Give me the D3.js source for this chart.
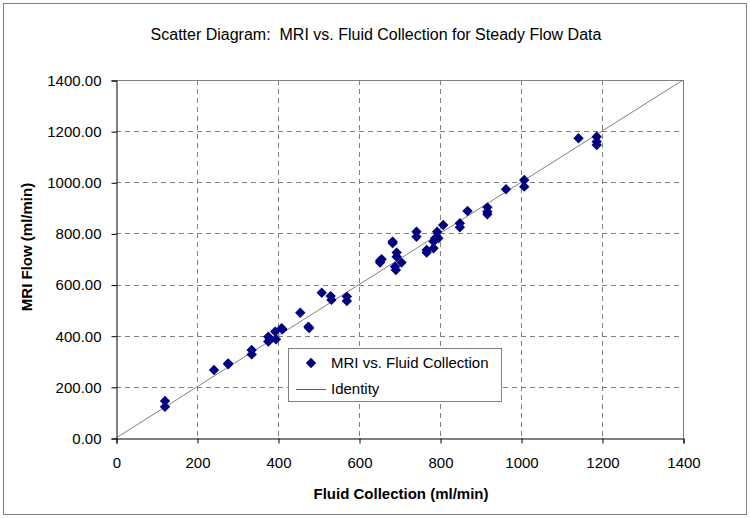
<!DOCTYPE html>
<html>
<head>
<meta charset="utf-8">
<script src="https://cdn.jsdelivr.net/npm/d3@7"></script>
<style>
  body { margin: 0; background: #fff; }
  svg { display: block; font-family: "Liberation Sans", Arial, sans-serif; }
</style>
</head>
<body>
<svg id="chart" width="750" height="518"></svg>
<script>
// Data
const fluidCollection = [121,121,242,277,277,335,335,376,376,380,393,395,409,411,455,475,477,508,530,532,570,570,652,652,656,683,683,689,691,693,693,705,742,742,767,767,784,784,788,793,796,808,849,849,868,917,917,917,963,1008,1008,1142,1187,1187,1187];
const mriFlow =         [145,122,266,292,288,344,327,396,377,385,416,386,429,425,490,435,430,568,555,540,553,536,693,686,699,768,762,670,657,725,709,686,807,787,735,725,742,768,781,807,781,833,840,824,888,902,885,875,973,1009,983,1172,1178,1159,1146];
const xTicks = [0,200,400,600,800,1000,1200,1400];
const yTicks = [0,200,400,600,800,1000,1200,1400];
const identity = [0,1400];
const titleText = "Scatter Diagram:  MRI vs. Fluid Collection for Steady Flow Data";
const xTitle = "Fluid Collection (ml/min)";
const yTitle = "MRI Flow (ml/min)";
const seriesNames = ["MRI vs. Fluid Collection", "Identity"];

const svg = d3.select("#chart");
const pL = 116, pR = 683, pT = 80, pB = 438;
const FONT = "Liberation Sans, Arial, sans-serif";

const x = d3.scaleLinear().domain([0,1400]).range([pL,pR]);
const y = d3.scaleLinear().domain([0,1400]).range([pB,pT]);

// outer border
svg.append("rect").attr("x",3.5).attr("y",3.5).attr("width",743).attr("height",511)
  .attr("fill","#fff").attr("stroke","#808080").attr("stroke-width",1);

// title
svg.append("text").attr("x",376).attr("y",40).attr("text-anchor","middle")
  .attr("font-size",16).attr("fill","#000").style("white-space","pre").text(titleText);

// gridlines
const grid = svg.append("g");
grid.selectAll(".hg").data(yTicks.slice(1,-1)).enter().append("line")
  .attr("x1",pL).attr("x2",pR)
  .attr("y1",d=>Math.round(y(d))+0.5).attr("y2",d=>Math.round(y(d))+0.5)
  .attr("stroke","#808080").attr("stroke-dasharray","5,4");
grid.selectAll(".vg").data(xTicks.slice(1,-1)).enter().append("line")
  .attr("y1",pT).attr("y2",pB)
  .attr("x1",d=>Math.round(x(d))+0.5).attr("x2",d=>Math.round(x(d))+0.5)
  .attr("stroke","#808080").attr("stroke-dasharray","5,4");

// plot frame (top/right gray)
svg.append("line").attr("x1",pL).attr("x2",pR+0.5).attr("y1",pT+0.5).attr("y2",pT+0.5).attr("stroke","#808080");
svg.append("line").attr("x1",pR+0.5).attr("x2",pR+0.5).attr("y1",pT).attr("y2",pB).attr("stroke","#808080");

// axes
const xAxis = d3.axisBottom(x).tickValues(xTicks).tickSize(5).tickPadding(14).tickFormat(d3.format("d"));
const gx = svg.append("g").attr("transform",`translate(0.5,${pB+0.5})`).call(xAxis);
const yAxis = d3.axisLeft(y).tickValues(yTicks).tickSize(5).tickPadding(10).tickFormat(d3.format(".2f"));
const gy = svg.append("g").attr("transform",`translate(${pL+0.5},0.5)`).call(yAxis);
[gx,gy].forEach(g=>{
  g.attr("font-size",15).attr("font-family",FONT);
  g.selectAll("text").attr("fill","#000");
  g.selectAll("line").attr("stroke","#000");
  g.select(".domain").attr("stroke","#000");
});

// axis titles
svg.append("text").attr("x",401).attr("y",499).attr("text-anchor","middle")
  .attr("font-size",15).attr("font-weight","bold").text(xTitle);
svg.append("text").attr("transform",`translate(32,247) rotate(-90)`)
  .attr("text-anchor","middle").attr("font-size",15).attr("font-weight","bold").text(yTitle);

// identity line
svg.append("line").attr("x1",x(identity[0])).attr("y1",y(identity[0]))
  .attr("x2",x(identity[1])).attr("y2",y(identity[1]))
  .attr("stroke","#606060").attr("stroke-width",0.8);

// points
const diamond = "M0,-5.2L5.2,0L0,5.2L-5.2,0Z";
svg.append("g").selectAll("path").data(fluidCollection.map((v,i)=>[v,mriFlow[i]])).enter()
  .append("path").attr("d",diamond)
  .attr("transform",d=>`translate(${x(d[0])},${y(d[1])})`)
  .attr("fill","#000080");

// legend
const lg = svg.append("g");
lg.append("rect").attr("x",288.5).attr("y",348.5).attr("width",213).attr("height",53)
  .attr("fill","#fff").attr("stroke","#808080");
lg.append("path").attr("d",diamond).attr("transform","translate(311,363)").attr("fill","#000080");
lg.append("text").attr("x",331).attr("y",368).attr("font-size",15).text(seriesNames[0]);
lg.append("line").attr("x1",296).attr("x2",326).attr("y1",389.5).attr("y2",389.5).attr("stroke","#606060");
lg.append("text").attr("x",331).attr("y",394).attr("font-size",15).text(seriesNames[1]);
</script>
</body>
</html>
